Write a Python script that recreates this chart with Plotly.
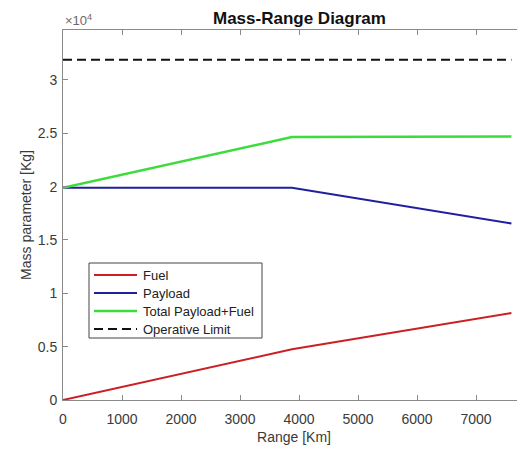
import plotly.graph_objects as go

range_km = [0, 3880, 7600]
fuel = [0, 4750, 8150]
payload = [19900, 19900, 16550]
total = [f + p for f, p in zip(fuel, payload)]
limit_range = [0, 7600]
limit = [31900, 31900]

names = ["Fuel", "Payload", "Total Payload+Fuel", "Operative Limit"]
colors = ["#cc1f24", "#1f1fa0", "#3ddc3d", "#111111"]
widths = [2, 2, 2.5, 2]
dashes = ["solid", "solid", "solid", "9px,5px"]
series = [(range_km, fuel), (range_km, payload), (range_km, total), (limit_range, limit)]

fig = go.Figure()
for (xs, ys), n, c, w, d in zip(series, names, colors, widths, dashes):
    fig.add_trace(go.Scatter(x=xs, y=ys, mode="lines", name=n,
                             line=dict(color=c, width=w, dash=d)))

# page body adds an 8px margin, so the figure is 8px smaller on each side shown
axis_col = "#8a8a8a"
font_col = "#3a3a3a"
fig.update_layout(
    width=517, height=442,
    margin=dict(l=55, r=0, t=22, b=50, autoexpand=False),
    paper_bgcolor="white", plot_bgcolor="white",
    font=dict(family="Liberation Sans, Arial", size=14, color=font_col),
    showlegend=False,
    xaxis=dict(range=[0, 7830], tickvals=list(range(0, 8000, 1000)),
               ticks="inside", ticklen=5, tickcolor=axis_col,
               showline=True, linecolor=axis_col, linewidth=1, mirror="ticks",
               showgrid=False, zeroline=False, automargin=False,
               tickfont=dict(size=14), ticklabelstandoff=6,
               title=dict(text="Range [Km]", font=dict(size=14, color=font_col), standoff=6)),
    yaxis=dict(range=[0, 34680], tickvals=[0, 5000, 10000, 15000, 20000, 25000, 30000],
               ticktext=["0", "0.5", "1", "1.5", "2", "2.5", "3"],
               ticks="inside", ticklen=5, tickcolor=axis_col,
               showline=True, linecolor=axis_col, linewidth=1,
               showgrid=False, zeroline=False, automargin=False,
               tickfont=dict(size=14), ticklabelstandoff=2,
               title=dict(text="Mass parameter [Kg]", font=dict(size=14, color=font_col), standoff=2)),
)

fig.add_annotation(text="<b>Mass-Range Diagram</b>", xref="paper", yref="paper",
                   x=(299 - 63) / 462, y=1.0, yshift=0, xanchor="center", yanchor="bottom",
                   showarrow=False, font=dict(size=17, color="#111111"))
fig.add_annotation(text="×10<sup>4</sup>", xref="paper", yref="paper",
                   x=0, y=1.0, xanchor="left", yanchor="bottom", showarrow=False,
                   font=dict(size=13, color="#6a6a6a"))

# legend box drawn by hand (MATLAB-like compact rows)
def px(xp):
    return (xp - 63) / 462

def py(yp):
    return (400 - yp) / 370

fig.add_shape(type="rect", xref="paper", yref="paper",
              x0=px(89), x1=px(262), y0=py(338), y1=py(263),
              line=dict(color="#444444", width=1), fillcolor="white", layer="above")
for i, (n, c, w, d) in enumerate(zip(names, colors, widths, dashes)):
    yy = 275 + 18 * i
    fig.add_shape(type="line", xref="paper", yref="paper",
                  x0=px(94), x1=px(137), y0=py(yy), y1=py(yy),
                  line=dict(color=c, width=w, dash=d), layer="above")
    fig.add_annotation(text=n, xref="paper", yref="paper", x=px(141), y=py(yy),
                       xanchor="left", yanchor="middle", showarrow=False,
                       font=dict(size=13, color="#222222"))

fig.write_html("out.html")
